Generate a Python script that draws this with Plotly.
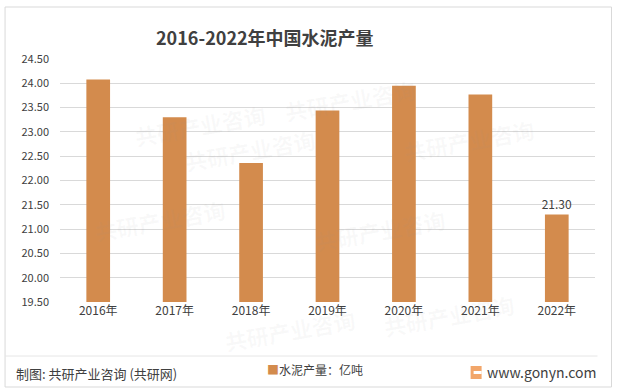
import plotly.graph_objects as go

categories = ["2016年", "2017年", "2018年", "2019年", "2020年", "2021年", "2022年"]
values = [24.08, 23.30, 22.36, 23.44, 23.95, 23.77, 21.30]
labels = ["", "", "", "", "", "", "21.30"]
y_ticks = [19.5, 20.0, 20.5, 21.0, 21.5, 22.0, 22.5, 23.0, 23.5, 24.0, 24.5]

W, H = 617, 391
L, R, T, B = 60, 21.5, 59, 89
PW, PH = W - L - R, H - T - B

def px(x):
    return (x - L) / PW

def py(y):
    return (H - B - y) / PH

FONT = "Noto Sans CJK SC, Microsoft YaHei, sans-serif"
BAR = "#D38B4D"
TXT = "#404040"

fig = go.Figure()
fig.add_trace(go.Bar(
    x=categories, y=values, base=0,
    marker=dict(color=BAR, line=dict(width=0)),
    width=0.31,
    text=labels, textposition="outside", constraintext="none",
    textfont=dict(size=12, color=TXT, family=FONT),
    cliponaxis=False,
    name="水泥产量：亿吨",
    showlegend=False,
))

shapes = [
    dict(type="rect", xref="paper", yref="paper",
         x0=px(5), x1=px(612), y0=py(387), y1=py(7),
         line=dict(color="#D9D9D9", width=1), layer="below"),
    dict(type="line", xref="paper", yref="paper",
         x0=px(5), x1=px(598), y0=py(356), y1=py(356),
         line=dict(color="#E6E6E6", width=1)),
    dict(type="rect", xref="paper", yref="paper",
         x0=px(471), x1=px(482), y0=py(379), y1=py(366),
         fillcolor="#F2A66A", line=dict(width=0)),
    dict(type="rect", xref="paper", yref="paper",
         x0=px(474), x1=px(482), y0=py(374), y1=py(371),
         fillcolor="white", line=dict(width=0)),
]

annotations = [
    dict(text="<b>2016-2022年中国水泥产量</b>", xref="paper", yref="paper",
         x=px(265), y=py(37), xanchor="center", yanchor="middle", showarrow=False,
         font=dict(size=18, color=TXT, family=FONT)),
    dict(text="制图: 共研产业咨询 (共研网)", xref="paper", yref="paper",
         x=px(14), y=py(373), xanchor="left", yanchor="middle", showarrow=False,
         font=dict(size=13, color=TXT, family=FONT)),
    dict(text="<span style='color:%s'>■</span>水泥产量：亿吨" % BAR, xref="paper", yref="paper",
         x=px(265), y=py(369), xanchor="left", yanchor="middle", showarrow=False,
         font=dict(size=12, color=TXT, family=FONT)),
    dict(text="www.gonyn.com", xref="paper", yref="paper",
         x=px(599), y=py(372), xanchor="right", yanchor="middle", showarrow=False,
         font=dict(size=14, color=TXT, family=FONT)),
]

# faint watermarks
wm = [(130, 95), (420, 70), (250, 150), (540, 140), (90, 250), (380, 260), (220, 360), (520, 345)]
for (wx, wy) in wm:
    annotations.append(dict(text="<b>共研产业咨询</b>",
                            xref="paper", yref="paper",
                            x=px(wx), y=py(wy), showarrow=False, textangle=-10,
                            font=dict(size=22, color="rgba(150,150,150,0.06)", family=FONT)))

fig.update_layout(
    width=W, height=H,
    margin=dict(l=L, r=R, t=T, b=B),
    paper_bgcolor="white", plot_bgcolor="rgba(0,0,0,0)",
    bargap=0.69,
    xaxis=dict(showgrid=False, showline=False, ticks="",
               tickfont=dict(size=12, color=TXT, family=FONT)),
    yaxis=dict(range=[19.5, 24.5], tickvals=y_ticks, tickformat=".2f",
               showgrid=True, gridcolor="#D9D9D9", gridwidth=1,
               zeroline=False, showline=False, ticks="",
               ticklabelstandoff=10,
               tickfont=dict(size=11, color=TXT, family=FONT)),
    shapes=shapes,
    annotations=annotations,
    font=dict(family=FONT),
)

fig.write_html("out.html", config={"displayModeBar": False},
               post_script="document.body.style.margin='0';document.body.style.overflow='hidden';")
